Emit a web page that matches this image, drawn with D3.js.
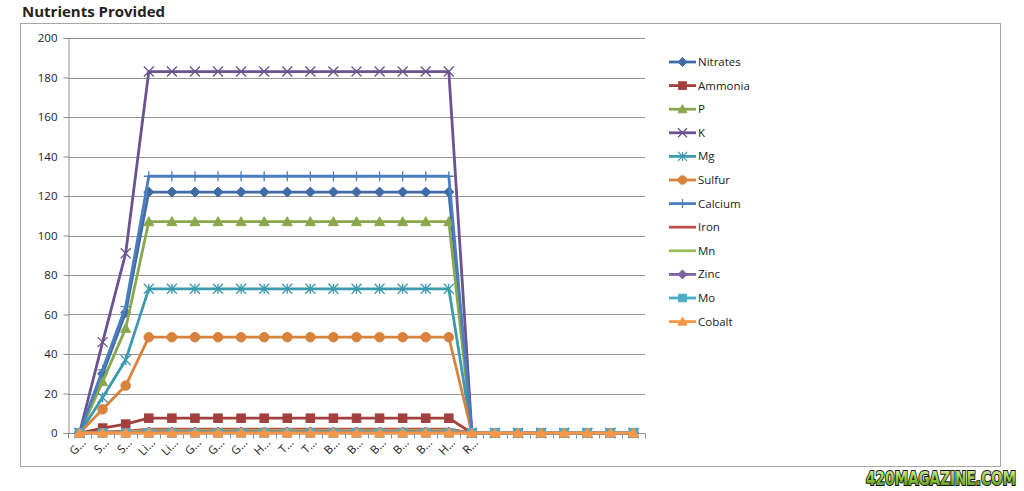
<!DOCTYPE html>
<html><head><meta charset="utf-8">
<script src="https://cdnjs.cloudflare.com/ajax/libs/d3/7.8.5/d3.min.js"></script>
<style>
html,body{margin:0;padding:0;background:#fff;}
svg{display:block;}
text{font-family:"Open Sans","Liberation Sans",sans-serif;}
</style></head>
<body>
<svg id="c" width="1024" height="491"></svg>
<script>
const categories = ["G…","S…","S…","Li…","Li…","G…","G…","G…","H…","T…","T…","B…","B…","B…","B…","B…","H…","R…","","","","","","",""];
const yTicks = [0,20,40,60,80,100,120,140,160,180,200];
const nitrates = [0,30,61,122,122,122,122,122,122,122,122,122,122,122,122,122,122,0,0,0,0,0,0,0,0];
const ammonia  = [0,2.5,4.5,7.5,7.5,7.5,7.5,7.5,7.5,7.5,7.5,7.5,7.5,7.5,7.5,7.5,7.5,0,0,0,0,0,0,0,0];
const p        = [0,26,53,107,107,107,107,107,107,107,107,107,107,107,107,107,107,0,0,0,0,0,0,0,0];
const k        = [0,46,91,183,183,183,183,183,183,183,183,183,183,183,183,183,183,0,0,0,0,0,0,0,0];
const mg       = [0,18,37,73,73,73,73,73,73,73,73,73,73,73,73,73,73,0,0,0,0,0,0,0,0];
const sulfur   = [0,12,24,48.5,48.5,48.5,48.5,48.5,48.5,48.5,48.5,48.5,48.5,48.5,48.5,48.5,48.5,0,0,0,0,0,0,0,0];
const calcium  = [0,32,64,130,130,130,130,130,130,130,130,130,130,130,130,130,130,0,0,0,0,0,0,0,0];
const iron     = [0,0.5,1,2,2,2,2,2,2,2,2,2,2,2,2,2,2,0,0,0,0,0,0,0,0];
const mn       = [0,0.3,0.6,1.2,1.2,1.2,1.2,1.2,1.2,1.2,1.2,1.2,1.2,1.2,1.2,1.2,1.2,0,0,0,0,0,0,0,0];
const zinc     = [0,0.1,0.2,0.5,0.5,0.5,0.5,0.5,0.5,0.5,0.5,0.5,0.5,0.5,0.5,0.5,0.5,0,0,0,0,0,0,0,0];
const mo       = [0,0,0,0,0,0,0,0,0,0,0,0,0,0,0,0,0,0,0,0,0,0,0,0,0];
const cobalt   = [0,0,0,0,0,0,0,0,0,0,0,0,0,0,0,0,0,0,0,0,0,0,0,0,0];
const seriesNames = ["Nitrates","Ammonia","P","K","Mg","Sulfur","Calcium","Iron","Mn","Zinc","Mo","Cobalt"];

const series = [
  {name:seriesNames[0], values:nitrates, color:"#3F6CA6", marker:"diamond"},
  {name:seriesNames[1], values:ammonia, color:"#A2403D", marker:"square"},
  {name:seriesNames[2], values:p, color:"#89A84C", marker:"triangle"},
  {name:seriesNames[3], values:k, color:"#6B5290", marker:"x"},
  {name:seriesNames[4], values:mg, color:"#3B9AB0", marker:"star"},
  {name:seriesNames[5], values:sulfur, color:"#D9823B", marker:"circle"},
  {name:seriesNames[6], values:calcium, color:"#4A7EBE", marker:"plus"},
  {name:seriesNames[7], values:iron, color:"#C0504D", marker:"none"},
  {name:seriesNames[8], values:mn, color:"#9BBB59", marker:"none"},
  {name:seriesNames[9], values:zinc, color:"#7E62A0", marker:"diamond"},
  {name:seriesNames[10], values:mo, color:"#4BACC6", marker:"square"},
  {name:seriesNames[11], values:cobalt, color:"#F79646", marker:"triangle"}
];

const svg = d3.select("#c");
const L = 68, R = 645, T = 38, B = 433;

svg.append("rect").attr("x",20.5).attr("y",23.5).attr("width",980).attr("height",443)
  .attr("fill","none").attr("stroke","#a6a6a6").attr("stroke-width",1);

svg.append("text").attr("x",22).attr("y",17).attr("font-size",15).attr("font-weight","bold")
  .attr("fill","#222").text("Nutrients Provided");

const x = d3.scaleBand().domain(d3.range(categories.length)).range([L,R]);
const y = d3.scaleLinear().domain([0,200]).range([B,T]);

svg.append("g").selectAll("line").data(yTicks.filter(d=>d>0)).join("line")
  .attr("x1",L).attr("x2",R).attr("y1",d=>Math.round(y(d))+0.5).attr("y2",d=>Math.round(y(d))+0.5)
  .attr("stroke","#949494").attr("stroke-width",1);

const ya = svg.append("g").attr("transform",`translate(${L+0.5},0)`)
  .call(d3.axisLeft(y).tickValues(yTicks).tickSize(5).tickPadding(6));
ya.select(".domain").attr("stroke","#8c8c8c");
ya.selectAll(".tick line").attr("stroke","#8c8c8c");
ya.selectAll("text").attr("font-size",11.5).attr("fill","#222").style("font-family","'Open Sans',sans-serif");

const xa = svg.append("g").attr("transform",`translate(0,${B+0.5})`);
xa.append("line").attr("x1",L).attr("x2",R).attr("stroke","#8c8c8c");
xa.selectAll(".tk").data(d3.range(categories.length+1)).join("line")
  .attr("x1",i=>Math.round(L + i*x.step())+0.5).attr("x2",i=>Math.round(L + i*x.step())+0.5)
  .attr("y1",0).attr("y2",5).attr("stroke","#8c8c8c");
xa.selectAll(".lb").data(categories.map((c,i)=>({c,i}))).join("text")
  .attr("transform",d=>`translate(${x(d.i)+x.bandwidth()/2+7},10) rotate(-45)`)
  .attr("text-anchor","end").attr("font-size",11.5).attr("fill","#222").text(d=>d.c);

function drawMarker(g, type, color, sz){
  const s = sz;
  if(type==="diamond") g.append("path").attr("d",`M0,${-s}L${s},0L0,${s}L${-s},0Z`).attr("fill",color).attr("stroke",color);
  else if(type==="square") g.append("rect").attr("x",-s*0.85).attr("y",-s*0.85).attr("width",s*1.7).attr("height",s*1.7).attr("fill",color).attr("stroke",color);
  else if(type==="triangle") g.append("path").attr("d",`M0,${-s}L${s},${s*0.8}L${-s},${s*0.8}Z`).attr("fill",color).attr("stroke",color);
  else if(type==="circle") g.append("circle").attr("r",s*0.95).attr("fill",color).attr("stroke",color);
  else if(type==="x") g.append("path").attr("d",`M${-s},${-s}L${s},${s}M${-s},${s}L${s},${-s}`).attr("stroke",color).attr("stroke-width",1.3).attr("fill","none");
  else if(type==="star") g.append("path").attr("d",`M${-s},${-s}L${s},${s}M${-s},${s}L${s},${-s}M0,${-s}L0,${s}`).attr("stroke",color).attr("stroke-width",1.3).attr("fill","none");
  else if(type==="plus") g.append("path").attr("d",`M0,${-s}L0,${s}M${-s},0L${s},0`).attr("stroke",color).attr("stroke-width",1.3).attr("fill","none");
}

const line = d3.line().x((d,i)=>x(i)+x.bandwidth()/2).y(d=>y(d));
const plot = svg.append("g");
series.forEach(s=>{
  const g = plot.append("g");
  g.append("path").attr("d",line(s.values)).attr("fill","none").attr("stroke",s.color)
    .attr("stroke-width",2.8).attr("stroke-linejoin","round");
  if(s.marker!=="none"){
    s.values.forEach((v,i)=>{
      const m = g.append("g").attr("transform",`translate(${x(i)+x.bandwidth()/2},${y(v)})`);
      drawMarker(m, s.marker, s.color, 5);
    });
  }
});

const lg = svg.append("g");
series.forEach((s,i)=>{
  const yy = 62 + i*23.6;
  lg.append("line").attr("x1",669).attr("x2",696).attr("y1",yy).attr("y2",yy).attr("stroke",s.color).attr("stroke-width",2.8);
  if(s.marker!=="none"){
    const m = lg.append("g").attr("transform",`translate(682.5,${yy})`);
    drawMarker(m, s.marker, s.color, 4.5);
  }
  lg.append("text").attr("x",698).attr("y",yy+4).attr("font-size",11.5).attr("fill","#222").text(s.name);
});

const defs = svg.append("defs");
const gr = defs.append("linearGradient").attr("id","wm").attr("x1",0).attr("y1",0).attr("x2",0).attr("y2",1);
gr.append("stop").attr("offset","0%").attr("stop-color","#e8f7b0");
gr.append("stop").attr("offset","55%").attr("stop-color","#8cc63f");
gr.append("stop").attr("offset","100%").attr("stop-color","#4f8a1c");
svg.append("text").attr("x",866).attr("y",485).attr("font-size",19).attr("font-weight","bold")
  .attr("textLength",150).attr("lengthAdjust","spacingAndGlyphs")
  .style("font-family","'DejaVu Sans Condensed','DejaVu Sans',sans-serif")
  .attr("fill","url(#wm)").attr("stroke","#111").attr("stroke-width",2).attr("paint-order","stroke")
  .text("420MAGAZINE.COM");
</script>
</body></html>
